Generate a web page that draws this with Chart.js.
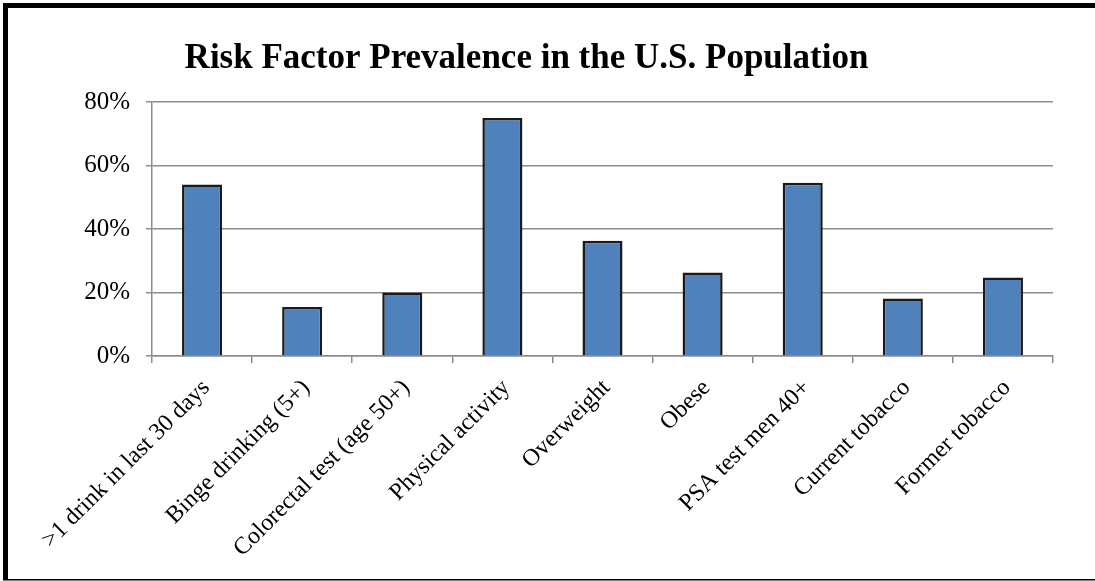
<!DOCTYPE html>
<html>
<head>
<meta charset="utf-8">
<script src="https://cdn.jsdelivr.net/npm/chart.js@4/dist/chart.umd.min.js"></script>
<style>
  html, body { margin: 0; padding: 0; background: #fff; }
  #wrap { width: 1095px; height: 581px; }
</style>
</head>
<body>
<div id="wrap"><canvas id="riskChart" width="1095" height="581"></canvas></div>
<script>
const categories = [
  '>1 drink in last 30 days',
  'Binge drinking (5+)',
  'Colorectal test (age 50+)',
  'Physical activity',
  'Overweight',
  'Obese',
  'PSA test men 40+',
  'Current tobacco',
  'Former tobacco'
];
const prevalence = [54, 15.4, 20, 75, 36.3, 26.3, 54.6, 18.1, 24.7]; // percent
const yTicks = [0, 20, 40, 60, 80];

const serif = '"Liberation Serif", "Times New Roman", serif';
const gridGray = '#8c8c8c';

// black frame round the picture (thick top/left, thin bottom)
const framePlugin = {
  id: 'frame',
  afterDraw(chart) {
    const c = chart.ctx;
    c.save();
    c.fillStyle = '#000';
    c.fillRect(3, 3, chart.width - 3, 5);
    c.fillRect(3, 3, 5, chart.height - 4);
    c.fillRect(3, chart.height - 2, chart.width - 3, 1.5);
    c.restore();
  }
};

const ctx = document.getElementById('riskChart').getContext('2d');
new Chart(ctx, {
  type: 'bar',
  data: {
    labels: categories,
    datasets: [{
      label: 'Prevalence',
      data: prevalence,
      backgroundColor: '#4f81bd',
      borderColor: '#1a1a1a',
      borderWidth: 2.5,
      barPercentage: 0.4,
      categoryPercentage: 1
    }]
  },
  options: {
    responsive: false,
    animation: false,
    layout: { padding: { left: 0, right: 42, top: 0, bottom: 0 } },
    plugins: {
      legend: { display: false },
      tooltip: { enabled: false },
      title: {
        display: true,
        text: 'Risk Factor Prevalence in the U.S. Population',
        color: '#000',
        font: { family: serif, size: 35, weight: 'bold' },
        padding: { top: 38, bottom: 22 }
      }
    },
    scales: {
      x: {
        afterFit: (s) => { s.height = 225; },
        grid: {
          offset: true,
          drawOnChartArea: false,
          drawTicks: true,
          tickLength: 7,
          color: gridGray,
          lineWidth: 1.5
        },
        border: { color: gridGray, width: 1.5 },
        ticks: {
          color: '#000',
          font: { family: serif, size: 24 },
          minRotation: 45,
          maxRotation: 45,
          autoSkip: false,
          padding: 11,
          labelOffset: 4
        }
      },
      y: {
        min: 0,
        max: 80,
        afterFit: (s) => { s.width = 152; },
        afterBuildTicks: (s) => { s.ticks = yTicks.map(v => ({ value: v })); },
        grid: {
          color: gridGray,
          lineWidth: 1.5,
          drawTicks: true,
          tickLength: 6
        },
        border: { color: gridGray, width: 1.5 },
        ticks: {
          color: '#000',
          font: { family: serif, size: 25 },
          padding: 16,
          callback: (v) => v + '%'
        }
      }
    }
  },
  plugins: [framePlugin]
});
</script>
</body>
</html>
